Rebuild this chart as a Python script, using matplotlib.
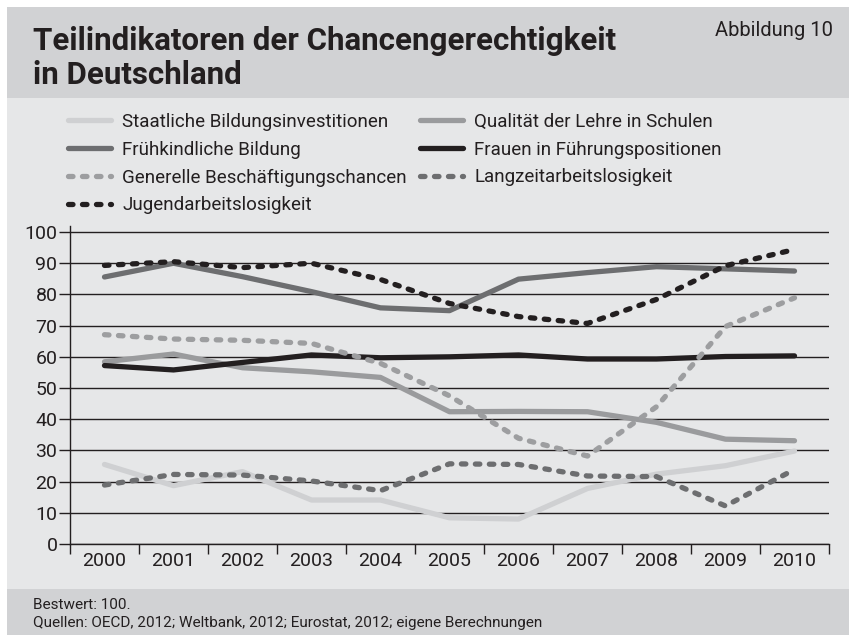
import matplotlib.pyplot as plt
from matplotlib.patches import Rectangle

# data
years = ['2000', '2001', '2002', '2003', '2004', '2005', '2006', '2007', '2008', '2009', '2010']
staatliche = [25.5, 18.7, 23.2, 14.1, 14.1, 8.4, 8.0, 17.8, 22.4, 25.1, 29.8]
qualitaet = [58.4, 60.9, 56.5, 55.2, 53.4, 42.4, 42.5, 42.4, 39.0, 33.6, 33.1]
fruehkindlich = [85.6, 90.0, 85.7, 80.9, 75.7, 74.8, 84.9, 87.0, 88.9, 88.2, 87.5]
frauen = [57.2, 55.8, 58.2, 60.6, 59.7, 60.0, 60.6, 59.3, 59.3, 60.1, 60.3]
beschaeftigung = [67.1, 65.7, 65.3, 64.3, 57.9, 47.5, 33.9, 28.2, 44.0, 69.7, 78.9]
langzeit = [18.9, 22.3, 22.1, 20.2, 17.1, 25.7, 25.5, 21.8, 21.6, 12.2, 23.9]
jugend = [89.3, 90.5, 88.6, 90.0, 84.8, 77.1, 72.9, 70.7, 78.4, 89.2, 94.4]

labels = ['Staatliche Bildungsinvestitionen', 'Qualität der Lehre in Schulen',
          'Frühkindliche Bildung', 'Frauen in Führungspositionen',
          'Generelle Beschäftigungschancen', 'Langzeitarbeitslosigkeit',
          'Jugendarbeitslosigkeit']

plt.rcParams['font.family'] = ['Roboto', 'DejaVu Sans']
ink = '#231f20'

W, H = 849, 635
fig = plt.figure(figsize=(W / 100, H / 100), dpi=100)
fig.patch.set_facecolor('white')

# background bands (title, chart, footer)
fig.patches.append(Rectangle((7 / W, 1 - 98 / H), 842 / W, 91 / H, transform=fig.transFigure,
                             facecolor='#d1d2d4', edgecolor='none', zorder=-5))
fig.patches.append(Rectangle((7 / W, 1 - 589 / H), 842 / W, 491 / H, transform=fig.transFigure,
                             facecolor='#e6e7e8', edgecolor='none', zorder=-5))
fig.patches.append(Rectangle((7 / W, 0), 842 / W, 46 / H, transform=fig.transFigure,
                             facecolor='#d1d2d4', edgecolor='none', zorder=-5))

ax = fig.add_axes([70 / W, (H - 544) / H, 759 / W, (544 - 225.8) / H])
ax.set_facecolor('none')
ax.set_zorder(2)

x = list(range(len(years)))
solid = dict(lw=3.8, solid_capstyle='round', solid_joinstyle='round')
dashed = dict(lw=3.8, linestyle=(0, (0.85, 1.8)), dash_capstyle='round', dash_joinstyle='round')

h = []
h += ax.plot(x, staatliche, color='#cfd0d2', **solid)
h += ax.plot(x, qualitaet, color='#9a9b9d', **solid)
h += ax.plot(x, fruehkindlich, color='#6d6e70', **solid)
h += ax.plot(x, frauen, color=ink, **solid)
h += ax.plot(x, beschaeftigung, color='#9d9ea0', **dashed)
h += ax.plot(x, langzeit, color='#6d6e70', **dashed)
h += ax.plot(x, jugend, color=ink, **dashed)

ax.set_xlim(-0.5, len(years) - 0.5)
ax.set_ylim(0, 102)
ax.set_yticks(range(0, 101, 10))
ax.yaxis.grid(True, color=ink, lw=1)
ax.set_axisbelow(True)

# ticks between categories, labels centered
ax.set_xticks([i - 0.5 for i in range(len(years) + 1)])
ax.set_xticklabels([])
ax.set_xticks(x, minor=True)
ax.set_xticklabels(years, minor=True, fontsize=14)
ax.tick_params(axis='x', which='major', length=7, width=1, color=ink)
ax.tick_params(axis='x', which='minor', length=0, pad=6, labelcolor=ink)
ax.tick_params(axis='y', length=8, width=1, color=ink, labelsize=14, labelcolor=ink, pad=1)

for s in ['top', 'right']:
    ax.spines[s].set_visible(False)
for s in ['left', 'bottom']:
    ax.spines[s].set_color(ink)
    ax.spines[s].set_linewidth(1)

order = [0, 2, 4, 6, 1, 3, 5]
fig.legend([h[i] for i in order], [labels[i] for i in order], ncol=2, loc='upper left',
           bbox_to_anchor=(68 / W, 1 - 113 / H), frameon=False, fontsize=13.5,
           handlelength=2.3, handletextpad=0.6, columnspacing=0.7, labelspacing=0.52,
           borderpad=0, borderaxespad=0, labelcolor=ink)

fig.text(33 / W, 1 - 50 / H, 'Teilindikatoren der Chancengerechtigkeit', fontsize=22.5,
         fontweight='bold', color=ink, va='baseline')
fig.text(33 / W, 1 - 84 / H, 'in Deutschland', fontsize=22.5, fontweight='bold',
         color=ink, va='baseline')
fig.text(833 / W, 1 - 36 / H, 'Abbildung 10', fontsize=14.5, color=ink, ha='right', va='baseline')

fig.text(33 / W, 1 - 609 / H, 'Bestwert: 100.', fontsize=11, color=ink, va='baseline')
fig.text(33 / W, 1 - 627 / H, 'Quellen: OECD, 2012; Weltbank, 2012; Eurostat, 2012; eigene Berechnungen',
         fontsize=11, color=ink, va='baseline')

fig.savefig('out.png', dpi=100, facecolor=fig.get_facecolor())
